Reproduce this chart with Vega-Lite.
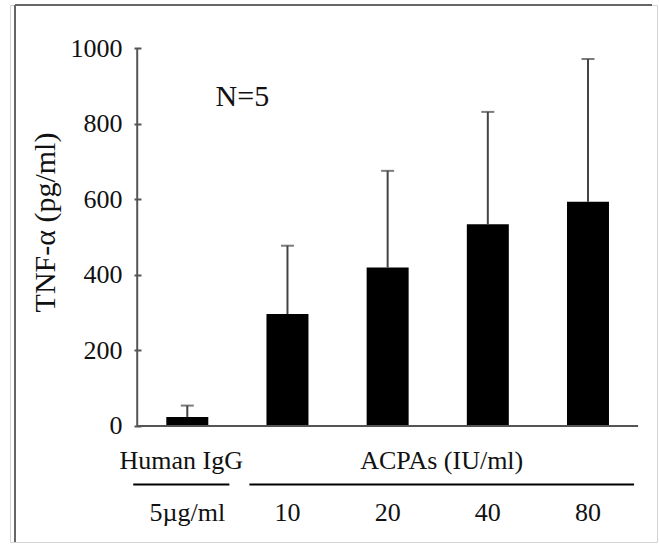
{
  "$schema": "https://vega.github.io/schema/vega-lite/v6.json",
  "width": 647,
  "height": 537,
  "autosize": {"type": "none"},
  "padding": {"left": 10, "top": 5, "right": 2, "bottom": 3},
  "background": "white",
  "config": {
    "view": {"stroke": "#d4d4d4", "strokeWidth": 1},
    "font": "Liberation Serif",
    "text": {"font": "Liberation Serif", "color": "#111"}
  },
  "datasets": {
    "bars": [
      {"group": "Human IgG", "dose": "5µg/ml", "idx": 1, "mean": 24, "upper": 54},
      {"group": "ACPAs (IU/ml)", "dose": "10", "idx": 2, "mean": 296, "upper": 477},
      {"group": "ACPAs (IU/ml)", "dose": "20", "idx": 3, "mean": 419, "upper": 675},
      {"group": "ACPAs (IU/ml)", "dose": "40", "idx": 4, "mean": 534, "upper": 831},
      {"group": "ACPAs (IU/ml)", "dose": "80", "idx": 5, "mean": 593, "upper": 971}
    ],
    "groups": [
      {"group": "Human IgG", "from": 0.46, "to": 1.42},
      {"group": "ACPAs (IU/ml)", "from": 1.62, "to": 5.46}
    ],
    "one": [{"note": "N=5"}]
  },
  "layer": [
    {
      "data": {"name": "bars"},
      "mark": {"type": "bar", "width": 42, "color": "black"},
      "encoding": {
        "x": {"field": "idx", "type": "quantitative", "scale": {"domain": [-0.72, 5.639], "nice": false, "zero": false}, "axis": null},
        "y": {
          "field": "mean", "type": "quantitative",
          "scale": {"domain": [-306.9, 1113.8], "nice": false, "zero": false},
          "axis": {
            "title": "TNF-α (pg/ml)",
            "values": [0, 200, 400, 600, 800, 1000],
            "format": "d",
            "domain": false,
            "grid": false,
            "offset": -124,
            "tickSize": -7,
            "tickWidth": 2,
            "tickColor": "#555",
            "labelFont": "Liberation Serif",
            "labelFontSize": 26,
            "labelColor": "#111",
            "labelPadding": 19,
            "labelBaseline": "middle",
            "labelOverlap": false,
            "titleFont": "Liberation Serif",
            "titleFontSize": 30,
            "titleFontWeight": "normal",
            "titleColor": "#111",
            "titleAngle": 270,
            "titleAlign": "center",
            "titleBaseline": "middle",
            "titleX": -89,
            "titleY": 217
          }
        },
        "y2": {"datum": 0}
      }
    },
    {
      "data": {"name": "bars"},
      "mark": {"type": "rule", "color": "#444", "strokeWidth": 2},
      "encoding": {
        "x": {"field": "idx", "type": "quantitative", "scale": {"domain": [-0.72, 5.639], "nice": false, "zero": false}, "axis": null},
        "y": {"field": "mean", "type": "quantitative", "title": "TNF-α (pg/ml)", "scale": {"domain": [-306.9, 1113.8], "nice": false, "zero": false}},
        "y2": {"field": "upper"}
      }
    },
    {
      "data": {"name": "bars"},
      "mark": {"type": "tick", "orient": "horizontal", "color": "#444", "thickness": 2, "size": 13},
      "encoding": {
        "x": {"field": "idx", "type": "quantitative", "scale": {"domain": [-0.72, 5.639], "nice": false, "zero": false}, "axis": null},
        "y": {"field": "upper", "type": "quantitative", "title": "TNF-α (pg/ml)", "scale": {"domain": [-306.9, 1113.8], "nice": false, "zero": false}}
      }
    },
    {
      "data": {"name": "one"},
      "mark": {"type": "rule", "color": "#555", "strokeWidth": 2},
      "encoding": {
        "x": {"datum": 0.5, "type": "quantitative", "scale": {"domain": [-0.72, 5.639], "nice": false, "zero": false}, "axis": null},
        "y": {"datum": 0, "type": "quantitative", "title": "TNF-α (pg/ml)", "scale": {"domain": [-306.9, 1113.8], "nice": false, "zero": false}},
        "y2": {"datum": 1000}
      }
    },
    {
      "data": {"name": "one"},
      "mark": {"type": "rule", "color": "#555", "strokeWidth": 2},
      "encoding": {
        "x": {"datum": 0.5, "type": "quantitative", "scale": {"domain": [-0.72, 5.639], "nice": false, "zero": false}, "axis": null},
        "x2": {"datum": 5.5},
        "y": {"datum": 0, "type": "quantitative", "title": "TNF-α (pg/ml)", "scale": {"domain": [-306.9, 1113.8], "nice": false, "zero": false}}
      }
    },
    {
      "data": {"name": "one"},
      "mark": {"type": "rule", "color": "#666", "strokeWidth": 2},
      "encoding": {
        "x": {"datum": -0.72, "type": "quantitative", "scale": {"domain": [-0.72, 5.639], "nice": false, "zero": false}, "axis": null},
        "y": {"datum": -306.9, "type": "quantitative", "title": "TNF-α (pg/ml)", "scale": {"domain": [-306.9, 1113.8], "nice": false, "zero": false}},
        "y2": {"datum": 1113.8}
      }
    },
    {
      "data": {"name": "one"},
      "mark": {"type": "rule", "color": "#666", "strokeWidth": 2},
      "encoding": {
        "x": {"datum": -0.72, "type": "quantitative", "scale": {"domain": [-0.72, 5.639], "nice": false, "zero": false}, "axis": null},
        "x2": {"datum": 5.639},
        "y": {"datum": 1113.8, "type": "quantitative", "title": "TNF-α (pg/ml)", "scale": {"domain": [-306.9, 1113.8], "nice": false, "zero": false}}
      }
    },
    {
      "data": {"name": "groups"},
      "mark": {"type": "rule", "color": "black", "strokeWidth": 2},
      "encoding": {
        "x": {"field": "from", "type": "quantitative", "scale": {"domain": [-0.72, 5.639], "nice": false, "zero": false}, "axis": null},
        "x2": {"field": "to"},
        "y": {"datum": -155, "type": "quantitative", "title": "TNF-α (pg/ml)", "scale": {"domain": [-306.9, 1113.8], "nice": false, "zero": false}}
      }
    },
    {
      "data": {"name": "groups"},
      "transform": [{"calculate": "(datum.from + datum.to) / 2", "as": "mid"}],
      "mark": {"type": "text", "font": "Liberation Serif", "fontSize": 26, "baseline": "alphabetic", "align": "center", "color": "#111"},
      "encoding": {
        "x": {"field": "mid", "type": "quantitative", "scale": {"domain": [-0.72, 5.639], "nice": false, "zero": false}, "axis": null},
        "y": {"datum": -114, "type": "quantitative", "title": "TNF-α (pg/ml)", "scale": {"domain": [-306.9, 1113.8], "nice": false, "zero": false}},
        "text": {"field": "group"}
      }
    },
    {
      "data": {"name": "bars"},
      "mark": {"type": "text", "font": "Liberation Serif", "fontSize": 26, "baseline": "alphabetic", "align": "center", "color": "#111"},
      "encoding": {
        "x": {"field": "idx", "type": "quantitative", "scale": {"domain": [-0.72, 5.639], "nice": false, "zero": false}, "axis": null},
        "y": {"datum": -251, "type": "quantitative", "title": "TNF-α (pg/ml)", "scale": {"domain": [-306.9, 1113.8], "nice": false, "zero": false}},
        "text": {"field": "dose"}
      }
    },
    {
      "data": {"name": "one"},
      "mark": {"type": "text", "font": "Liberation Serif", "fontSize": 30, "baseline": "alphabetic", "align": "center", "color": "#111"},
      "encoding": {
        "x": {"datum": 1.55, "type": "quantitative", "scale": {"domain": [-0.72, 5.639], "nice": false, "zero": false}, "axis": null},
        "y": {"datum": 847, "type": "quantitative", "title": "TNF-α (pg/ml)", "scale": {"domain": [-306.9, 1113.8], "nice": false, "zero": false}},
        "text": {"field": "note"}
      }
    }
  ]
}
